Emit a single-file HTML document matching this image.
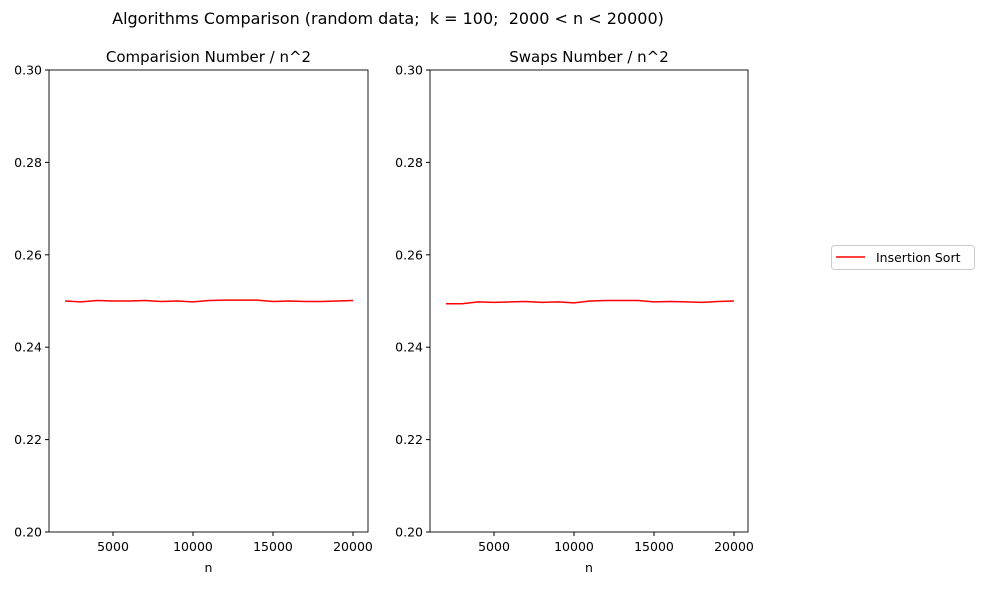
<!DOCTYPE html>
<html><head><meta charset="utf-8"><style>
body{margin:0;background:#fff;font-family:"Liberation Sans","DejaVu Sans",sans-serif;}
svg text{font-family:"DejaVu Sans","Liberation Sans",sans-serif;white-space:pre;}
</style></head><body>
<svg id="c" width="985" height="585" xmlns="http://www.w3.org/2000/svg"></svg>
<script>
const nValues=[2000,3000,4000,5000,6000,7000,8000,9000,10000,11000,12000,13000,14000,15000,16000,17000,18000,19000,20000];
const compValues=[0.2500,0.2498,0.2501,0.2500,0.2500,0.2501,0.2499,0.2500,0.2498,0.2501,0.2502,0.2502,0.2502,0.2499,0.2500,0.2499,0.2499,0.2500,0.2501];
const swapValues=[0.2494,0.2494,0.2498,0.2497,0.2498,0.2499,0.2497,0.2498,0.2496,0.2500,0.2501,0.2501,0.2501,0.2498,0.2499,0.2498,0.2497,0.2499,0.2500];
const xTicks=[5000,10000,15000,20000];
const yTicks=[0.20,0.22,0.24,0.26,0.28,0.30];
const titles=["Comparision Number / n^2","Swaps Number / n^2"];
const seriesName="Insertion Sort";
const svg=document.getElementById('c');
const NS="http://www.w3.org/2000/svg";
function mk(tag,attrs,parent){const e=document.createElementNS(NS,tag);for(const k in attrs)e.setAttribute(k,attrs[k]);(parent||svg).appendChild(e);return e;}
const t=mk('text',{x:388,y:24,'font-size':16,'text-anchor':'middle'});t.textContent="Algorithms Comparison (random data;  k = 100;  2000 < n < 20000)";


const panels=[{x0:49,x1:368,vals:compValues,name:'comparisons'},{x0:430,x1:748,vals:swapValues,name:'swaps'}];
const yTop=70,yBot=532;
panels.forEach((p,i)=>{
  const g=mk('g',{});
  
  
  const xs=v=>p.x0+64+(v-5000)*0.016;
  const ys=v=>yBot-(v-0.20)/0.10*(yBot-yTop);
  const pts=nValues.map((n,j)=>xs(n).toFixed(2)+','+ys(p.vals[j]).toFixed(2)).join(' ');
  const line=mk('polyline',{points:pts,fill:'none',stroke:'#ff0000','stroke-width':1.5},g);
  
  
  const fr=mk('rect',{x:p.x0,y:yTop,width:p.x1-p.x0,height:yBot-yTop,fill:'none',stroke:'#000','stroke-width':0.9},g);
  
  
  xTicks.forEach(v=>{const x=xs(v);mk('line',{x1:x,x2:x,y1:yBot,y2:yBot+4,stroke:'#000'},g);
    const tx=mk('text',{x:x,y:yBot+19,'font-size':12.5,'text-anchor':'middle'},g);tx.textContent=v;
    
    });
  yTicks.forEach(v=>{const y=ys(v);mk('line',{x1:p.x0-4,x2:p.x0,y1:y,y2:y,stroke:'#000'},g);
    const ty=mk('text',{x:p.x0-7,y:y+4.5,'font-size':12.5,'text-anchor':'end'},g);ty.textContent=v.toFixed(2);
    
    });
  const xl=mk('text',{x:(p.x0+p.x1)/2,y:572,'font-size':12.5,'text-anchor':'middle'},g);xl.textContent='n';
  
  
  const pt=mk('text',{x:(p.x0+p.x1)/2,y:62,'font-size':15,'text-anchor':'middle'},g);pt.textContent=titles[i];
  
  
});
const lg=mk('g',{});


mk('rect',{x:831.5,y:245.5,width:143,height:24,rx:3,fill:'#fff',stroke:'#ccc'},lg);
mk('line',{x1:836,x2:865,y1:257,y2:257,stroke:'#ff0000','stroke-width':1.5},lg);
const lt=mk('text',{x:876,y:262,'font-size':12.5},lg);lt.textContent=seriesName;


</script>
</body></html>
